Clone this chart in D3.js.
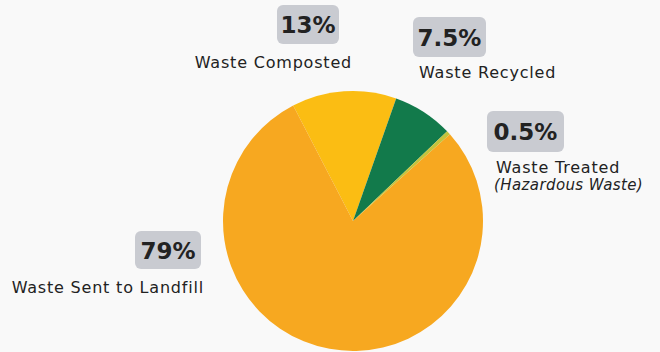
<!DOCTYPE html>
<html>
<head>
<meta charset="utf-8">
<script src="https://cdn.jsdelivr.net/npm/d3@7"></script>
<style>
  html, body { margin: 0; padding: 0; background: #f9f9f9; }
  svg { display: block; }
  text { font-family: "DejaVu Sans", "Noto Sans", sans-serif; fill: #222; }
</style>
</head>
<body>
<svg id="chart" width="660" height="352"></svg>
<script>
// Waste streams, in drawing order (clockwise from the top-left)
const categories = ["Waste Composted", "Waste Recycled", "Waste Treated", "Waste Sent to Landfill"];
const shares = [13, 7.5, 0.5, 79];
const shareLabels = ["13%", "7.5%", "0.5%", "79%"];
const subLabels = ["", "", "(Hazardous Waste)", ""];
const sliceColors = ["#fbbd13", "#127a4b", "#c2c43c", "#f7a820"];

const svg = d3.select("#chart");
const cx = 353, cy = 221, radius = 130;

const startDeg = -27.4;
const pie = d3.pie()
  .sort(null)
  .value(d => d)
  .startAngle(startDeg * Math.PI / 180)
  .endAngle(startDeg * Math.PI / 180 + 2 * Math.PI);

const arc = d3.arc().innerRadius(0).outerRadius(radius);

const g = svg.append("g").attr("transform", `translate(${cx},${cy})`);
g.selectAll("path")
  .data(pie(shares))
  .join("path")
  .attr("d", arc)
  .attr("fill", (d, i) => sliceColors[i]);

// Callout placement for each slice: badge box and the caption beneath it
const callouts = [
  { box: [277, 5, 62, 39], cap: [352, 68], anchor: "end" },
  { box: [413, 17, 73, 40], cap: [419, 78], anchor: "start" },
  { box: [487, 111, 77, 41], cap: [496, 173], anchor: "start" },
  { box: [135, 231, 66, 38], cap: [204, 293], anchor: "end" }
];

const labels = svg.append("g");
callouts.forEach((c, i) => {
  const [bx, by, bw, bh] = c.box;
  labels.append("rect")
    .attr("x", bx).attr("y", by)
    .attr("width", bw).attr("height", bh)
    .attr("rx", 6)
    .attr("fill", "#c9cbd1");
  labels.append("text")
    .attr("x", bx + bw / 2)
    .attr("y", by + bh / 2 + 8.5)
    .attr("text-anchor", "middle")
    .attr("font-size", 23)
    .attr("font-weight", 700)
    .attr("fill", "#141414")
    .text(shareLabels[i]);
  labels.append("text")
    .attr("x", c.cap[0])
    .attr("y", c.cap[1])
    .attr("text-anchor", c.anchor)
    .attr("font-size", 16)
    .attr("letter-spacing", 0.8)
    .attr("fill", "#2a2a2a")
    .text(categories[i]);
  if (subLabels[i]) {
    labels.append("text")
      .attr("x", c.cap[0] - 2)
      .attr("y", c.cap[1] + 17)
      .attr("text-anchor", c.anchor)
      .attr("font-size", 15)
      .attr("letter-spacing", 0.4)
      .attr("font-style", "italic")
      .attr("fill", "#2a2a2a")
      .text(subLabels[i]);
  }
});
</script>
</body>
</html>
